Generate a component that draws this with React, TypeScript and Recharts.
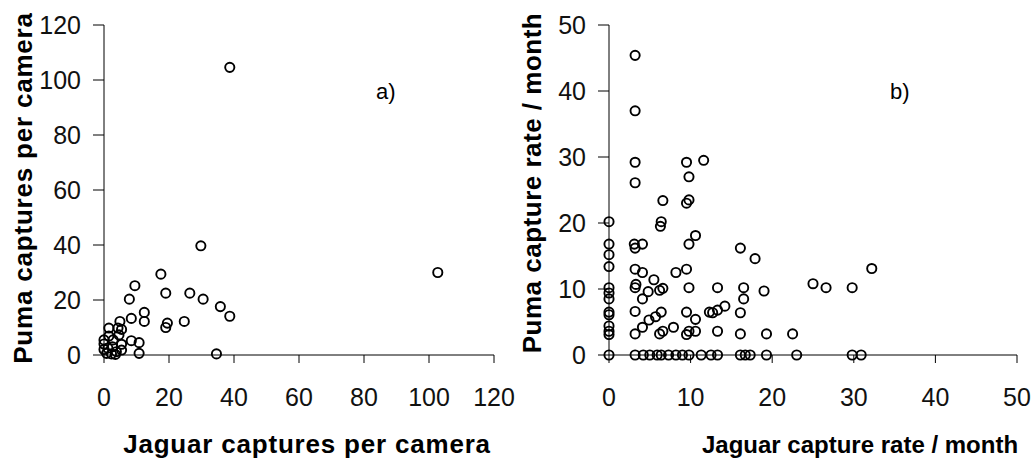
import React from "react";
import { ScatterChart, Scatter, XAxis, YAxis } from "recharts";

// a) captures per camera
const jaguarPerCamera = [
  38.7, 102.7, 29.8, 17.5, 9.5, 7.8, 19, 26.4, 30.5, 35.8, 38.7, 12.4, 12.4, 8.4, 24.7, 19.5, 19, 34.6,
  4.9, 1.5, 4.3, 5.4, 4.6, 8.4, 10.8, 10.8, 5.4, 5.4, 2.6, 1.5, 0, 0, 0, 0.8, 2.3, 3.5, 1.2, 2.8, 3.8,
];
const pumaPerCamera = [
  104.6, 30, 39.7, 29.4, 25.2, 20.3, 22.5, 22.5, 20.3, 17.6, 14.1, 15.5, 12.2, 13.3, 12.2, 11.6, 10, 0.4,
  12.2, 9.8, 9.8, 9.3, 7.3, 5.2, 4.5, 0.6, 1.8, 3.9, 3, 6.9, 5.5, 4, 2, 0.6, 0.4, 0.2, 2.5, 5.5, 1.2,
];

// b) capture rate per month
const jaguarRate = [
  0, 0, 0, 0, 0, 0, 0, 0, 0, 0, 0, 0, 0,
  3.2, 3.2, 3.2, 3.2, 3.1, 3.2, 3.2, 3.2, 3.3, 3.2, 3.2, 3.2,
  4.1, 4.1, 5.5, 8.2, 9.5, 4.8, 4.1, 6.6, 6.2, 9.8, 10.6, 9.8, 4.9, 5.7, 6.4, 4.1, 6.6, 6.2, 7.9, 9.5,
  10.6, 9.8, 9.5, 10.6, 12.3,
  9.5, 11.6, 9.8, 6.6, 9.5, 9.8, 6.4, 6.3,
  16.1, 17.9, 32.2, 13.3, 16.5, 16.5, 19, 25, 26.6, 29.8, 12.7, 13.3, 14.2, 16.1, 13.3, 16.1, 19.3, 22.5,
  4.2, 5.0, 5.9, 6.4, 7.3, 8.2, 9.0, 9.8, 11.3, 12.5, 13.3, 16.1, 16.7, 17.3, 19.3, 23, 29.8, 30.9,
];
const pumaRate = [
  20.2, 16.8, 15.2, 13.4, 10.2, 9.4, 8.5, 6.5, 6.1, 4.4, 3.6, 3.1, 0,
  45.4, 37, 29.2, 26.1, 16.8, 16.2, 13, 10.2, 10.7, 6.6, 3.2, 0,
  16.8, 12.5, 11.4, 12.5, 13, 9.6, 8.5, 10.1, 9.8, 10.2, 18.1, 16.8, 5.3, 5.8, 6.5, 4.2, 3.6, 3.2, 4.2, 6.5,
  5.4, 3.6, 3.1, 3.6, 6.5,
  29.2, 29.5, 27, 23.4, 23, 23.5, 20.2, 19.5,
  16.2, 14.6, 13.1, 10.2, 10.2, 8.5, 9.7, 10.8, 10.2, 10.2, 6.4, 6.8, 7.4, 6.4, 3.6, 3.2, 3.2, 3.2,
  0, 0, 0, 0, 0, 0, 0, 0, 0, 0, 0, 0, 0, 0, 0, 0, 0, 0,
];

const ticksA = [0, 20, 40, 60, 80, 100, 120];
const ticksB = [0, 10, 20, 30, 40, 50];

const dataA = jaguarPerCamera.map((x, i) => ({ x, y: pumaPerCamera[i] }));
const dataB = jaguarRate.map((x, i) => ({ x, y: pumaRate[i] }));

const FONT = "'Liberation Sans', Arial, sans-serif";
const tickStyle = { fill: "#111", fontSize: 25, fontFamily: FONT };

const Ring = (props: any) => (
  <circle cx={props.cx} cy={props.cy} r={4.6} fill="none" stroke="#000" strokeWidth={1.9} />
);

const titleStyle: React.CSSProperties = {
  position: "absolute",
  fontFamily: FONT,
  fontWeight: "bold",
  fontSize: 26,
  color: "#000",
  whiteSpace: "nowrap",
  lineHeight: "28px",
};

function Panel({ data, ticks, max, right }: { data: { x: number; y: number }[]; ticks: number[]; max: number; right: number }) {
  return (
    <ScatterChart
      width={515}
      height={463}
      margin={{ top: 25, right, left: 29, bottom: 58 }}
    >
      <XAxis
        type="number"
        dataKey="x"
        domain={[0, max]}
        ticks={ticks}
        height={50}
        tickSize={8}
        tickMargin={25}
        tick={tickStyle}
        axisLine={{ stroke: "#000" }}
        tickLine={{ stroke: "#000" }}
        interval={0}
      />
      <YAxis
        type="number"
        dataKey="y"
        domain={[0, max]}
        ticks={ticks}
        width={60}
        tickSize={11}
        tickMargin={12}
        tick={tickStyle}
        axisLine={{ stroke: "#000" }}
        tickLine={{ stroke: "#000" }}
        interval={0}
      />
      <Scatter data={data} shape={Ring} isAnimationActive={false} />
    </ScatterChart>
  );
}

export default function App() {
  return (
    <div style={{ position: "fixed", left: 0, top: 0, width: 1035, height: 463, background: "#fff", overflow: "hidden" }}>
      <style>{".recharts-surface { overflow: visible; }"}</style>
      <div style={{ position: "absolute", left: 15, top: 0 }}>
        <Panel data={dataA} ticks={ticksA} max={120} right={36} />
      </div>
      <div style={{ position: "absolute", left: 520, top: 0 }}>
        <Panel data={dataB} ticks={ticksB} max={50} right={18} />
      </div>

      <div style={{ ...titleStyle, left: 307, top: 430, letterSpacing: 0.8, transform: "translateX(-50%)" }}>
        Jaguar captures per camera
      </div>
      <div style={{ ...titleStyle, fontSize: 24, left: 860, top: 431, transform: "translateX(-50%)" }}>
        Jaguar capture rate / month
      </div>
      <div style={{ ...titleStyle, left: 23, top: 188, letterSpacing: 0.8, transform: "translate(-50%, -50%) rotate(-90deg)" }}>
        Puma captures per camera
      </div>
      <div style={{ ...titleStyle, left: 532, top: 183, letterSpacing: 0.5, transform: "translate(-50%, -50%) rotate(-90deg)" }}>
        Puma capture rate / month
      </div>

      <div style={{ position: "absolute", left: 376, top: 79, fontFamily: FONT, fontSize: 22 }}>a)</div>
      <div style={{ position: "absolute", left: 890, top: 79, fontFamily: FONT, fontSize: 22 }}>b)</div>
    </div>
  );
}
